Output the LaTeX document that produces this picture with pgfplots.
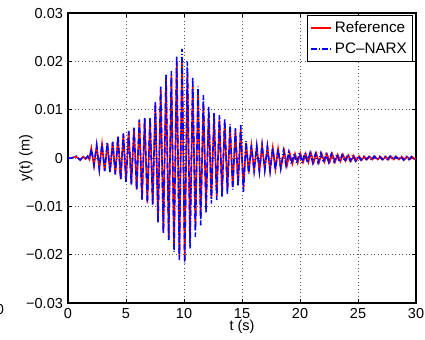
\documentclass[border=0pt]{standalone}
\usepackage{fontspec}
\setmainfont{Liberation Sans}
\usepackage{pgfplots}
\pgfplotsset{compat=1.18}
\begin{document}
\begin{tikzpicture}
\begin{axis}[
  scale only axis, width=240pt, height=200pt,
  xmin=0, xmax=30, ymin=-0.03, ymax=0.03,
  xtick={0,5,10,15,20,25,30},
  xticklabels={0,5,10,15,20,25,30},
  ytick={-0.03,-0.02,-0.01,0,0.01,0.02,0.03},
  yticklabels={−0.03,−0.02,−0.01,0,0.01,0.02,0.03},
  scaled y ticks=false,
  tick align=inside, major tick length=3pt,
  tick style={black, line width=0.5pt},
  axis line style={black, line width=0.8pt},
  grid=major,
  major grid style={dotted, gray!70!black, line width=0.5pt},
  tick label style={font=\fontsize{10}{12}\selectfont},
  xlabel={t (s)}, ylabel={y(t) (m)},
  label style={font=\fontsize{10}{12}\selectfont},
  xlabel style={at={(axis description cs:0.5,-0.083)}, anchor=center},
  ylabel style={at={(axis description cs:-0.121,0.5)}, anchor=center, rotate=0},
  legend style={at={(1,1)}, anchor=north east, xshift=-2pt, yshift=-1.5pt,
    draw=black, line width=0.6pt, fill=white, font=\fontsize{10.5}{12}\selectfont,
    inner sep=2pt, row sep=1.5pt},
  legend cell align=left,
  legend image code/.code={\draw[#1, line width=0.8pt] (0pt,0pt) -- (14pt,0pt);},
]
\addplot[red, solid, line width=1.1pt] coordinates {
(0,0) (0.3,0) (0.7,0.0003) (1.05,-0.0004) (1.3,0.0003) (1.5,-0.0002) (1.7,0.0003) (1.85,-0.0003)
(2.01,0.0020) (2.24,-0.0016)
(2.47,0.0026) (2.70,-0.0023)
(2.93,0.0029) (3.16,-0.0027)
(3.39,0.0031) (3.62,-0.0029)
(3.85,0.0033) (4.08,-0.0033)
(4.31,0.0044) (4.54,-0.0044)
(4.77,0.0050) (5.00,-0.0048)
(5.23,0.0055) (5.46,-0.0054)
(5.69,0.0062) (5.92,-0.0064)
(6.15,0.0078) (6.38,-0.0085)
(6.61,0.0081) (6.84,-0.0092)
(7.07,0.0082) (7.30,-0.0095)
(7.53,0.0112) (7.76,-0.0130)
(7.99,0.0142) (8.22,-0.0152)
(8.45,0.0165) (8.68,-0.0166)
(8.91,0.0172) (9.14,-0.0188)
(9.37,0.0200) (9.60,-0.0205)
(9.83,0.0205) (10.06,-0.0212)
(10.29,0.0178) (10.52,-0.0168)
(10.75,0.0150) (10.98,-0.0142)
(11.21,0.0130) (11.44,-0.0122)
(11.67,0.0112) (11.90,-0.0100)
(12.13,0.0094) (12.36,-0.0084)
(12.59,0.0084) (12.82,-0.0078)
(13.05,0.0080) (13.28,-0.0072)
(13.51,0.0073) (13.74,-0.0066)
(13.97,0.0064) (14.20,-0.0060)
(14.43,0.0057) (14.66,-0.0053)
(14.89,0.0060) (15.12,-0.0062)
(15.35,0.0032) (15.58,-0.0030)
(15.81,0.0026) (16.04,-0.0025)
(16.27,0.0024) (16.50,-0.0027)
(16.73,0.0026) (16.96,-0.0024)
(17.19,0.0023) (17.42,-0.0026)
(17.65,0.0021) (17.88,-0.0023)
(18.11,0.0019) (18.34,-0.0021)
(18.65,0.0014) (18.88,-0.0015)
(19.11,0.0011) (19.34,-0.0012)
(19.57,0.0009) (19.80,-0.0010)
(20.03,0.0010) (20.26,-0.0009)
(20.49,0.0009) (20.72,-0.0009)
(20.95,0.0010) (21.18,-0.0009)
(21.41,0.0009) (21.64,-0.0009)
(21.87,0.0009) (22.10,-0.0008)
(22.33,0.0008) (22.56,-0.0008)
(22.79,0.0008) (23.02,-0.0008)
(23.25,0.0007) (23.48,-0.0007)
(23.71,0.0007) (23.94,-0.0006)
(24.17,0.0006) (24.40,-0.0006)
(24.63,0.0005) (24.86,-0.0005)
(25.09,0.0004) (25.32,-0.0004)
(25.55,0.0003) (25.78,-0.0003)
(26.01,0.0003) (26.24,-0.0003)
(26.47,0.0003) (26.70,-0.0003)
(26.93,0.0003) (27.16,-0.0003)
(27.39,0.0003) (27.62,-0.0003)
(27.85,0.0003) (28.08,-0.0003)
(28.31,0.0003) (28.54,-0.0003)
(28.77,0.0003) (29.00,-0.0003)
(29.23,0.0003) (29.46,-0.0003)
(29.69,0.0002) (29.92,-0.0002)
(30,0)
};
\addlegendentry{Reference}
\addplot[blue, line width=1.1pt, dash pattern=on 4pt off 1.5pt on 0.6pt off 1.5pt] coordinates {
(0,0) (0.3,0) (0.7,0.0004) (1.05,-0.0004) (1.3,0.0003) (1.5,-0.0002) (1.7,0.0004) (1.85,-0.0003)
(2.01,0.0020) (2.24,-0.0015)
(2.47,0.0027) (2.70,-0.0024)
(2.93,0.0030) (3.16,-0.0027)
(3.39,0.0032) (3.62,-0.0030)
(3.85,0.0034) (4.08,-0.0034)
(4.31,0.0046) (4.54,-0.0045)
(4.77,0.0051) (5.00,-0.0049)
(5.23,0.0056) (5.46,-0.0055)
(5.69,0.0063) (5.92,-0.0066)
(6.15,0.0080) (6.38,-0.0087)
(6.61,0.0083) (6.84,-0.0094)
(7.07,0.0084) (7.30,-0.0097)
(7.53,0.0117) (7.76,-0.0134)
(7.99,0.0148) (8.22,-0.0156)
(8.45,0.0172) (8.68,-0.0170)
(8.91,0.0180) (9.14,-0.0194)
(9.37,0.0211) (9.60,-0.0211)
(9.83,0.0226) (10.06,-0.0218)
(10.29,0.0200) (10.52,-0.0187)
(10.75,0.0168) (10.98,-0.0163)
(11.21,0.0148) (11.44,-0.0139)
(11.67,0.0130) (11.90,-0.0114)
(12.13,0.0106) (12.36,-0.0094)
(12.59,0.0093) (12.82,-0.0087)
(13.05,0.0089) (13.28,-0.0080)
(13.51,0.0082) (13.74,-0.0074)
(13.97,0.0070) (14.20,-0.0065)
(14.43,0.0062) (14.66,-0.0058)
(14.89,0.0068) (15.12,-0.0070)
(15.35,0.0035) (15.58,-0.0033)
(15.81,0.0027) (16.04,-0.0026)
(16.27,0.0025) (16.50,-0.0028)
(16.73,0.0027) (16.96,-0.0025)
(17.19,0.0024) (17.42,-0.0027)
(17.65,0.0022) (17.88,-0.0024)
(18.11,0.0020) (18.34,-0.0022)
(18.57,0.0015) (18.80,-0.0016)
(19.03,0.0012) (19.26,-0.0013)
(19.49,0.0010) (19.72,-0.0011)
(19.95,0.0011) (20.18,-0.0010)
(20.41,0.0010) (20.64,-0.0009)
(20.87,0.0011) (21.10,-0.0010)
(21.33,0.0009) (21.56,-0.0010)
(21.79,0.0010) (22.02,-0.0009)
(22.25,0.0008) (22.48,-0.0009)
(22.71,0.0009) (22.94,-0.0008)
(23.17,0.0008) (23.40,-0.0008)
(23.63,0.0007) (23.86,-0.0007)
(24.09,0.0007) (24.32,-0.0006)
(24.55,0.0006) (24.78,-0.0006)
(25.01,0.0004) (25.24,-0.0004)
(25.47,0.0003) (25.70,-0.0003)
(25.93,0.0003) (26.16,-0.0004)
(26.39,0.0004) (26.62,-0.0003)
(26.85,0.0003) (27.08,-0.0003)
(27.31,0.0003) (27.54,-0.0003)
(27.77,0.0004) (28.00,-0.0003)
(28.23,0.0003) (28.46,-0.0003)
(28.69,0.0003) (28.92,-0.0004)
(29.15,0.0003) (29.38,-0.0003)
(29.61,0.0003) (29.84,-0.0002)
(30,0)
};
\addlegendentry{PC\textendash NARX}
\end{axis}
\node[font=\fontsize{10}{12}\selectfont, anchor=center, inner sep=0pt] at (-46.9pt,-4.5pt) {0};
\pgfresetboundingbox
\useasboundingbox (-46.9pt,-24.8pt) rectangle (246.2pt,209.0pt);
\end{tikzpicture}
\end{document}
